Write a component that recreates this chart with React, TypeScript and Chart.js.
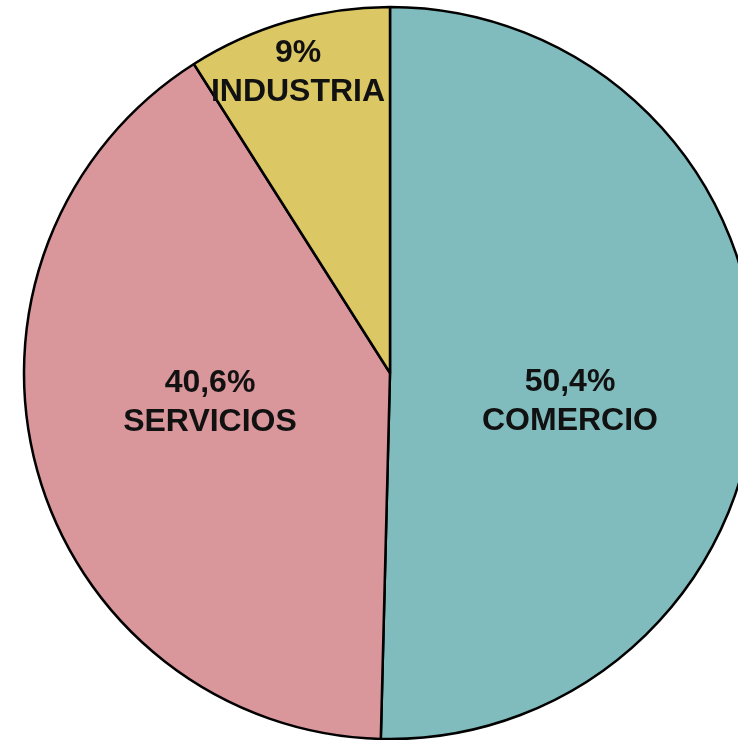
import React, { useEffect, useRef } from "react";
import { Chart, registerables } from "chart.js";

Chart.register(...registerables);

const categories: string[] = ["COMERCIO", "SERVICIOS", "INDUSTRIA"];
const shares: number[] = [50.4, 40.6, 9];
const valueLabels: string[] = ["50,4%", "40,6%", "9%"];
const sliceColors: string[] = ["#80BCBD", "#D9969B", "#DBC865"];

// label anchor offsets (px) from the pie centre: [dx, baseline dy of first line]
const labelOffsets: [number, number][] = [
  [180, 18],
  [-180, 19],
  [-92, -311],
];

const labelPlugin = {
  id: "sliceLabels",
  afterDatasetsDraw(chart: any) {
    const meta = chart.getDatasetMeta(0);
    const ctx = chart.ctx;
    ctx.save();
    ctx.fillStyle = "#111111";
    ctx.font = "bold 32px 'Liberation Sans', Arial, sans-serif";
    ctx.textAlign = "center";
    ctx.textBaseline = "alphabetic";
    meta.data.forEach((arc: any, i: number) => {
      const [dx, dy] = labelOffsets[i];
      const x = arc.x + dx;
      const y = arc.y + dy;
      ctx.fillText(valueLabels[i], x, y);
      ctx.fillText(categories[i], x, y + 39);
    });
    ctx.restore();
  },
};

export default function App() {
  const ref = useRef<HTMLCanvasElement | null>(null);
  useEffect(() => {
    if (!ref.current) return;
    const chart = new Chart(ref.current, {
      type: "pie",
      data: {
        labels: categories,
        datasets: [
          {
            data: shares,
            backgroundColor: sliceColors,
            borderColor: "#000000",
            borderWidth: 2.5,
          },
        ],
      },
      options: {
        responsive: false,
        animation: false,
        radius: 366,
        rotation: 0,
        layout: { padding: 0 },
        plugins: {
          legend: { display: false },
          tooltip: { enabled: false },
        },
      } as any,
      plugins: [labelPlugin],
    });
    return () => chart.destroy();
  }, []);
  return (
    <div
      style={{
        position: "absolute",
        left: 0,
        top: 0,
        width: 738,
        height: 740,
        overflow: "hidden",
        background: "#ffffff",
      }}
    >
      <canvas
        ref={ref}
        width={780}
        height={746}
        style={{ display: "block", width: 780, height: 746 }}
      />
    </div>
  );
}
